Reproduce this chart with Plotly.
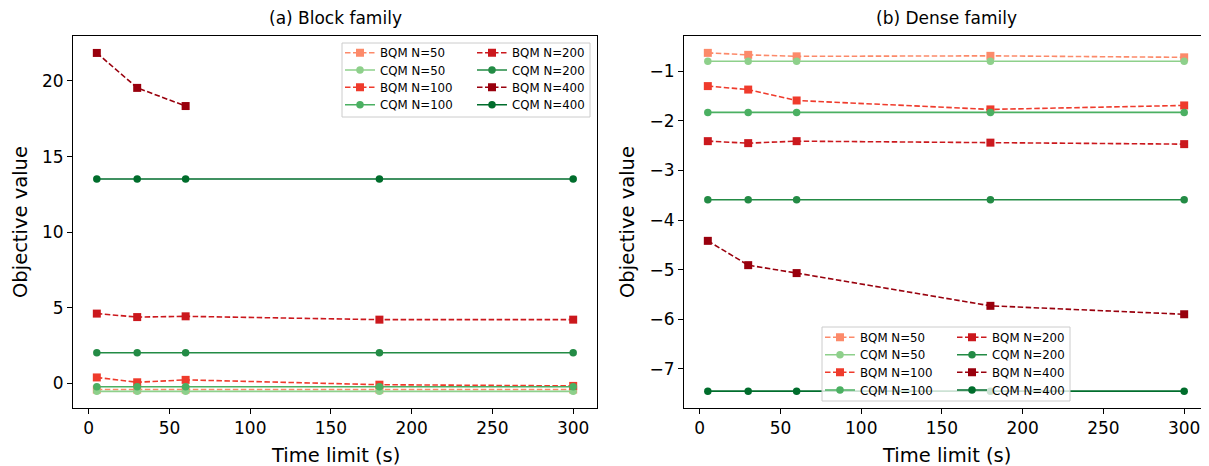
import plotly.graph_objects as go

time_limits = [5, 30, 60, 180, 300]
sizes = [50, 100, 200, 400]

# (a) Block family
block_bqm = {
    50: [-0.40, -0.40, -0.40, -0.40, -0.40],
    100: [0.40, 0.08, 0.24, -0.08, -0.16],
    200: [4.62, 4.39, 4.44, 4.22, 4.22],
    400: [21.85, 19.54, 18.34, None, None],
}
block_cqm = {
    50: [-0.52, -0.52, -0.52, -0.52, -0.52],
    100: [-0.22, -0.22, -0.22, -0.22, -0.22],
    200: [2.03, 2.03, 2.03, 2.03, 2.03],
    400: [13.52, 13.52, 13.52, 13.52, 13.52],
}

# (b) Dense family
dense_bqm = {
    50: [-0.63, -0.67, -0.70, -0.69, -0.72],
    100: [-1.30, -1.37, -1.59, -1.77, -1.69],
    200: [-2.41, -2.45, -2.41, -2.44, -2.47],
    400: [-4.42, -4.91, -5.07, -5.73, -5.90],
}
dense_cqm = {
    50: [-0.80, -0.80, -0.80, -0.80, -0.80],
    100: [-1.83, -1.83, -1.83, -1.83, -1.83],
    200: [-3.59, -3.59, -3.59, -3.59, -3.59],
    400: [-7.45, -7.45, -7.45, -7.45, -7.45],
}

bqm_colors = {50: "#fc8a6a", 100: "#ef3b2c", 200: "#cb181d", 400: "#99000d"}
cqm_colors = {50: "#8ed08b", 100: "#4bb062", 200: "#238b45", 400: "#006d2c"}

titles = ["(a) Block family", "(b) Dense family"]
x_title = "Time limit (s)"
y_title = "Objective value"
x_tick_vals = [0, 50, 100, 150, 200, 250, 300]
left_y_ticks = [0, 5, 10, 15, 20]
right_y_ticks = [-7, -6, -5, -4, -3, -2, -1]

# page body has an 8px margin: work in screen pixels and shift
OFF = 8
W, H = 1209 - OFF, 466 - OFF
ML = 73 - OFF
MT = 36 - OFF
MR = W - (1208 - OFF)
MB = H - (408 - OFF)
PW = W - ML - MR
PH = H - MT - MB

FONT = "DejaVu Sans"

def px2x(px):
    return (px - OFF - ML) / PW

def px2y(py):
    return (H - MB - (py - OFF)) / PH

fig = go.Figure()

# legend rows: (row index, left label size, right label size)
row_of = {("BQM", 50): 0, ("CQM", 50): 1, ("BQM", 100): 2, ("CQM", 100): 3,
          ("BQM", 200): 0, ("CQM", 200): 1, ("BQM", 400): 2, ("CQM", 400): 3}

def legname(panel, row):
    idx = panel * 4 + row + 1
    return "legend" if idx == 1 else f"legend{idx}"

def add_family(panel, bqm, cqm, xa, ya):
    for n in sizes:
        fig.add_trace(go.Scatter(
            x=time_limits, y=bqm[n], mode="lines+markers", name=f"BQM N={n}",
            line=dict(color=bqm_colors[n], width=1.6, dash="5.5px,2.5px"),
            marker=dict(symbol="square", size=8, color=bqm_colors[n]),
            xaxis=xa, yaxis=ya, legend=legname(panel, row_of[("BQM", n)]),
        ))
        fig.add_trace(go.Scatter(
            x=time_limits, y=cqm[n], mode="lines+markers", name=f"CQM N={n}",
            line=dict(color=cqm_colors[n], width=1.6),
            marker=dict(symbol="circle", size=7.5, color=cqm_colors[n]),
            xaxis=xa, yaxis=ya, legend=legname(panel, row_of[("CQM", n)]),
        ))

add_family(0, block_bqm, block_cqm, "x", "y")
add_family(1, dense_bqm, dense_cqm, "x2", "y2")

axis_common = dict(
    showline=True, linecolor="black", linewidth=1, mirror=True,
    ticks="outside", ticklen=5, tickwidth=1, tickcolor="black",
    showgrid=False, zeroline=False, automargin=False,
    tickfont=dict(family=FONT, size=17, color="black"),
)

d1 = [0, px2x(597)]
d2 = [px2x(684), 1]

fig.update_layout(
    width=W, height=H,
    margin=dict(l=ML, r=MR, t=MT, b=MB, autoexpand=False),
    plot_bgcolor="white", paper_bgcolor="white",
    font=dict(family=FONT, color="black"),
    xaxis=dict(domain=d1, range=[-9.75, 314.75], tickvals=x_tick_vals, anchor="y", **axis_common),
    yaxis=dict(domain=[0, 1], range=[-1.62, 22.97], tickvals=left_y_ticks, anchor="x", **axis_common),
    xaxis2=dict(domain=d2, range=[-9.75, 314.75], tickvals=x_tick_vals, anchor="y2", **axis_common),
    yaxis2=dict(domain=[0, 1], range=[-7.79, -0.29], tickvals=right_y_ticks, anchor="x2", **axis_common),
    showlegend=True,
)

leg_common = dict(
    bgcolor="rgba(0,0,0,0)", borderwidth=0,
    font=dict(family=FONT, size=11.8, color="black"),
    xanchor="left", yanchor="middle", orientation="h",
    itemwidth=30, entrywidth=87, entrywidthmode="pixels",
)
# screen pixel positions of legend rows (text start of first column, row centres)
legend_rows = [
    (340, [52.7, 70.0, 87.3, 104.7]),
    (820, [337.3, 354.7, 372.3, 390.0]),
]
leg_layout = {}
for panel, (lx, rows) in enumerate(legend_rows):
    for r, ry in enumerate(rows):
        leg_layout[legname(panel, r)] = dict(x=px2x(lx), y=px2y(ry), **leg_common)
fig.update_layout(**leg_layout)

# legend frames
for (x0, y0, x1, y1) in [(342, 43, 590, 117), (822, 327, 1070, 401)]:
    fig.add_shape(type="rect", xref="paper", yref="paper",
                  x0=px2x(x0), x1=px2x(x1), y0=px2y(y1), y1=px2y(y0),
                  line=dict(color="#cccccc", width=1),
                  fillcolor="rgba(255,255,255,0.8)", layer="above")

# titles and axis titles
for i, t in enumerate(titles):
    dom = d1 if i == 0 else d2
    cx = (dom[0] + dom[1]) / 2
    fig.add_annotation(text=t, xref="paper", yref="paper",
                       x=cx, y=px2y(18), xanchor="center", yanchor="middle",
                       showarrow=False, font=dict(family=FONT, size=17, color="black"))
    fig.add_annotation(text=x_title, xref="paper", yref="paper",
                       x=cx, y=px2y(455), xanchor="center", yanchor="middle",
                       showarrow=False, font=dict(family=FONT, size=19.5, color="black"))
    fig.add_annotation(text=y_title, xref="paper", yref="paper",
                       x=px2x(20 if i == 0 else 627), y=0.5, xanchor="center", yanchor="middle",
                       textangle=-90,
                       showarrow=False, font=dict(family=FONT, size=19.5, color="black"))

fig.write_html("out.html")
